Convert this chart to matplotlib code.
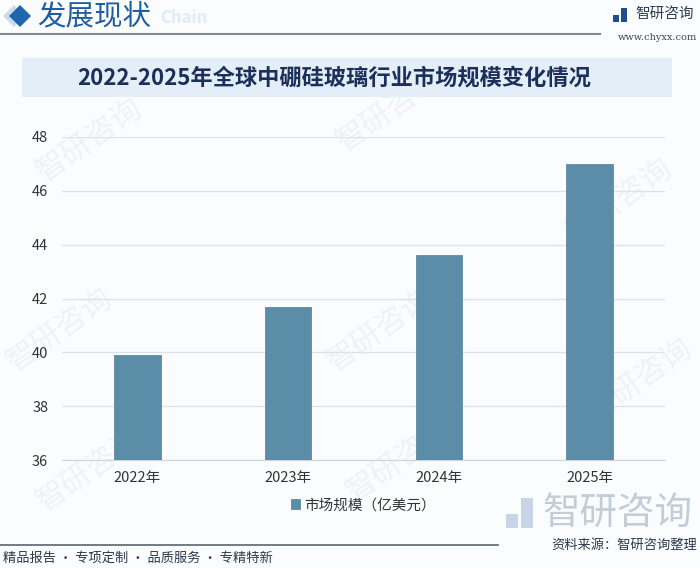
import matplotlib
matplotlib.use("Agg")
import matplotlib.pyplot as plt
from matplotlib.patches import Rectangle, Polygon

plt.rcParams['font.family'] = ['Noto Sans CJK SC', 'DejaVu Sans']

categories = ["2022年", "2023年", "2024年", "2025年"]
values = [39.9, 41.7, 43.6, 47.0]
yticks = [36, 38, 40, 42, 44, 46, 48]
series_name = "市场规模（亿美元）"
title = "2022-2025年全球中硼硅玻璃行业市场规模变化情况"

W, H = 700, 568
fig = plt.figure(figsize=(W / 100, H / 100), dpi=100)
fig.patch.set_facecolor("#fbfcfe")

def fx(x):
    return x / W

def fy(y):
    return 1 - y / H

# faint background watermarks
for (x, y) in [(90, 140), (390, 110), (620, 200), (60, 330), (380, 330), (640, 380),
               (90, 470), (400, 460)]:
    fig.text(fx(x), fy(y), "智研咨询", fontsize=22, color="#eef2f7", rotation=35,
             ha="center", va="center", zorder=-1)

# header
fig.patches.append(Polygon([[fx(14), fy(5)], [fx(25), fy(16)], [fx(14), fy(27)], [fx(3), fy(16)]],
                           closed=True, transform=fig.transFigure, facecolor="#c9dcee", zorder=1))
fig.patches.append(Polygon([[fx(20), fy(5)], [fx(31), fy(16)], [fx(20), fy(27)], [fx(9), fy(16)]],
                           closed=True, transform=fig.transFigure, facecolor="#1f66ad", zorder=2))
fig.text(fx(37), fy(16), "发展现状", fontsize=20.5, color="#1f5d9e", ha="left", va="center")
fig.text(fx(160), fy(18), "Chain", fontsize=12, color="#e0ebf5", ha="left", va="center",
         fontweight="bold")
fig.lines.append(plt.Line2D([0, fx(600)], [fy(34), fy(34)], transform=fig.transFigure,
                            color="#7f8c96", linewidth=1.5))
# logo right
fig.patches.append(Rectangle((fx(613), fy(22)), fx(6), 7 / H, transform=fig.transFigure,
                             facecolor="#1f4e8c"))
fig.patches.append(Rectangle((fx(621), fy(22)), fx(6), 14 / H, transform=fig.transFigure,
                             facecolor="#1f4e8c"))
fig.text(fx(635), fy(14), "智研咨询", fontsize=10.5, color="#2b3d55", ha="left", va="center")
fig.text(fx(697), fy(37), "www.chyxx.com", fontsize=7, color="#3a4656", ha="right", va="center",
         family="DejaVu Serif")

# title banner
fig.patches.append(Rectangle((fx(22), fy(97)), fx(650), 39 / H, transform=fig.transFigure,
                             facecolor="#e4eef8", edgecolor="none", zorder=1))
fig.text(fx(334), fy(78), title, fontsize=16, color="#1c2f5a", ha="center", va="center",
         fontweight="bold")

# chart
ax = fig.add_axes([fx(62), fy(460), fx(603), 323 / H])
ax.set_zorder(3)
ax.set_facecolor("none")
x = list(range(len(categories)))
ax.bar(x, values, width=0.31, color="#5b8ca8", edgecolor="#4f7f9b", linewidth=0.5,
       zorder=3, label=series_name)
ax.set_xlim(-0.5, len(categories) - 0.5)
ax.set_ylim(36, 48)
ax.set_yticks(yticks)
ax.set_yticklabels([str(t) for t in yticks], fontsize=10.5, color="#333333")
ax.set_xticks(x)
ax.set_xticklabels(categories, fontsize=10.5, color="#333333")
ax.tick_params(axis="both", length=0)
ax.tick_params(axis="y", pad=10)
ax.tick_params(axis="x", pad=8)
ax.grid(axis="y", color="#dfe3e8", linewidth=1, zorder=0)
for s in ["top", "right", "left"]:
    ax.spines[s].set_visible(False)
ax.spines["bottom"].set_color("#d0d5db")

leg = ax.legend(loc="center", bbox_to_anchor=(0.5, -0.14), frameon=False, fontsize=10.5,
                handlelength=0.6, handleheight=0.6, handletextpad=0.3)
for t in leg.get_texts():
    t.set_color("#333333")

# watermark lower right
fig.patches.append(Rectangle((fx(506), fy(528)), fx(12), 14 / H, transform=fig.transFigure,
                             facecolor="#c7d6e6"))
fig.patches.append(Rectangle((fx(521), fy(528)), fx(12), 30 / H, transform=fig.transFigure,
                             facecolor="#c7d6e6"))
fig.text(fx(543), fy(513), "智研咨询", fontsize=27, color="#c2cdd8", ha="left", va="center")

# footer
fig.lines.append(plt.Line2D([0, fx(498)], [fy(545), fy(545)], transform=fig.transFigure,
                            color="#5a6570", linewidth=1.2))
fig.text(fx(3), fy(558), "精品报告 · 专项定制 · 品质服务 · 专精特新", fontsize=9.5, color="#2b3a4d",
         ha="left", va="center")
fig.text(fx(697), fy(545), "资料来源：智研咨询整理", fontsize=9.5, color="#2b3a4d",
         ha="right", va="center")

fig.savefig("out.png", dpi=100, facecolor=fig.get_facecolor())
